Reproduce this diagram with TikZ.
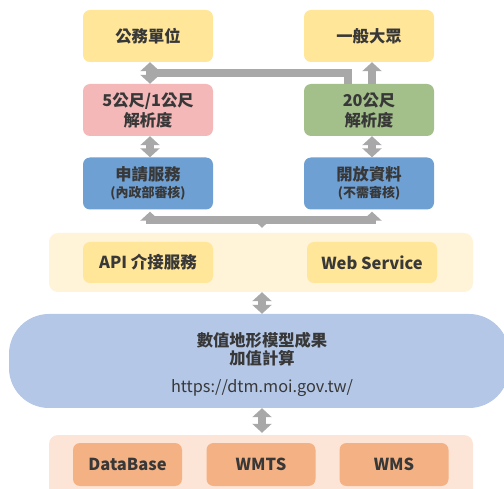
\documentclass[tikz,border=0pt]{standalone}
\usepackage{fontspec}
\setmainfont{Noto Sans CJK TC}
\usetikzlibrary{arrows.meta}

\definecolor{txt}{HTML}{383838}
\definecolor{usery}{HTML}{FFE699}
\definecolor{hires}{HTML}{F4B8B8}
\definecolor{lowres}{HTML}{A3C08B}
\definecolor{svcblue}{HTML}{6FA0D4}
\definecolor{panely}{HTML}{FFF3D8}
\definecolor{ifacey}{HTML}{FFE699}
\definecolor{dtmblue}{HTML}{B4C7E7}
\definecolor{panelo}{HTML}{FCE4D6}
\definecolor{srco}{HTML}{F4B183}
\definecolor{arrowgray}{HTML}{A8A8A8}

\begin{document}
\begin{tikzpicture}[x=1pt,y=-1pt,
  >={Triangle[width=19pt,length=9pt]},
  box/.style={rounded corners=7pt, minimum width=130pt, minimum height=52pt,
    align=center, inner sep=0pt, text=txt,
    font=\bfseries\fontsize{16.3}{20}\selectfont},
  ifbox/.style={rounded corners=7pt, minimum width=130pt, minimum height=41pt,
    inner sep=0pt, fill=ifacey, text=txt,
    font=\bfseries\fontsize{16.5}{19}\selectfont},
  srcbox/.style={rounded corners=7pt, minimum width=109pt, minimum height=43pt,
    inner sep=0pt, fill=srco, text=txt,
    font=\bfseries\fontsize{16.5}{19}\selectfont},
  conn/.style={draw=arrowgray, line width=8.5pt}]

\useasboundingbox (0,0) rectangle (504,489);

% user groups
\node[box, fill=usery] (gov) at (148,36) {公務單位};
\node[box, fill=usery] (pub) at (369,36) {一般大眾};

% resolutions
\node[box, fill=hires] (res5) at (148,110) {5公尺/1公尺\\解析度};
\node[box, fill=lowres] (res20) at (369,110) {20公尺\\解析度};

% access services
\node[box, fill=svcblue] (apply) at (148,183.5)
  {申請服務\\[-3pt]{\fontsize{13}{15}\selectfont (內政部審核)}};
\node[box, fill=svcblue] (open) at (369,183.5)
  {開放資料\\[-3pt]{\fontsize{13}{15}\selectfont (不需審核)}};

% interface panel
\node[rounded corners=9pt, fill=panely, minimum width=424pt,
  minimum height=59pt, inner sep=0pt] (iface) at (261,262.5) {};
\node[ifbox] (api) at (148,262.5) {API 介接服務};
\node[ifbox] (web) at (372,262.5) {Web Service};

% DTM core
\node[rounded corners=40pt, fill=dtmblue, minimum width=500pt,
  minimum height=94pt, inner sep=0pt] (dtm) at (259,361) {};
\node[text=txt, align=center, inner sep=0pt,
  font=\bfseries\fontsize{16.3}{18}\selectfont] (dtmtext) at (262,349.5)
  {數值地形模型成果\\加值計算};
\node[text=txt, inner sep=0pt, font=\fontsize{16.3}{19}\selectfont] (url)
  at (262,388) {https://dtm.moi.gov.tw/};

% data sources panel
\node[rounded corners=9pt, fill=panelo, minimum width=424pt,
  minimum height=64pt, inner sep=0pt] (src) at (261,467) {};
\node[srcbox] (db) at (127.5,464.5) {DataBase};
\node[srcbox] (wmts) at (261,464.5) {WMTS};
\node[srcbox] (wms) at (394,464.5) {WMS};

% connector columns
\coordinate (xl) at (150,0);
\coordinate (xj) at (348,0);
\coordinate (xr) at (372,0);
\coordinate (xc) at (262,0);
\coordinate (topbar) at (0,73);
\coordinate (lowbar) at (0,220);

% upper connectors
\draw[conn] (res20.north -| xj) |- (topbar -| xl);
\draw[conn, <->] (res5.north -| xl) -- (gov.south -| xl);
\draw[conn, ->] (res20.north -| xr) -- (pub.south -| xr);
\draw[conn, <->] (res5.south -| xl) -- (apply.north -| xl);
\draw[conn, <->] (res20.south -| xr) -- (open.north -| xr);

% distribution from the interface panel
\draw[conn, ->] (lowbar -| xl) -- ([yshift=-2pt]apply.south -| xl);
\draw[conn, ->] (lowbar -| xr) -- ([yshift=-2pt]open.south -| xr);
\draw[conn] ([xshift=-4.25pt]lowbar -| xl) -- ([xshift=4.25pt]lowbar -| xr);
\draw[conn, ->] (lowbar -| xc) -- ([yshift=5pt]iface.north -| xc);

% core links
\draw[conn, <->] (iface.south -| xc) -- (dtm.north -| xc);
\draw[conn, <->] (dtm.south -| xc) -- ([yshift=2pt]src.north -| xc);

\end{tikzpicture}
\end{document}
